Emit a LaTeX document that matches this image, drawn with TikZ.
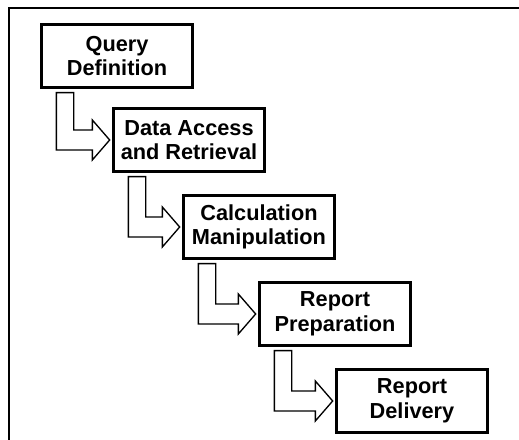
\documentclass[tikz,border=0pt]{standalone}
\usepackage{fontspec}
\setmainfont{Liberation Sans}
\usepackage{tikz}
\usetikzlibrary{calc}
\tikzset{
  stage/.style={rectangle, draw, line width=2pt, fill=white,
                minimum width=113pt, minimum height=47pt,
                align=center, font=\fontsize{16.3}{18.5}\selectfont\bfseries},
  flow/.style={draw, line width=1pt, fill=white, line join=miter},
  frame/.style={line width=1.5pt},
}
% L-shaped block arrow from the bottom of one stage to the left of the next
\newcommand{\steparrow}[2]{%
  \draw[flow] let \p1=(#1.south west), \p2=(#2.west) in
    (\x1+12pt,\y1-3pt) -- (\x1+25pt,\y1-3pt) -- (\x1+25pt,\y2+7.5pt)
    -- (\x2-15pt,\y2+7.5pt) -- (\x2-15pt,\y2+15pt) -- (\x2-2pt,\y2)
    -- (\x2-15pt,\y2-15pt) -- (\x2-15pt,\y2-7.5pt)
    -- (\x1+12pt,\y2-7.5pt) -- cycle;}
\begin{document}
\begin{tikzpicture}[x=0.75pt, y=0.75pt]
  \useasboundingbox (0,0) rectangle (519,440);
  \draw[frame] (9,0) -- (9,432) -- (519,432);

  \node[stage] (query)  at (117,384) {Query\\Definition};
  \node[stage] (access) at (189,300) {Data Access\\and Retrieval};
  \node[stage] (calc)   at (259,213) {Calculation\\Manipulation};
  \node[stage] (prep)   at (335,126) {Report\\Preparation};
  \node[stage] (deliv)  at (412,39)  {Report\\Delivery};

  \steparrow{query}{access}
  \steparrow{access}{calc}
  \steparrow{calc}{prep}
  \steparrow{prep}{deliv}
\end{tikzpicture}
\end{document}
